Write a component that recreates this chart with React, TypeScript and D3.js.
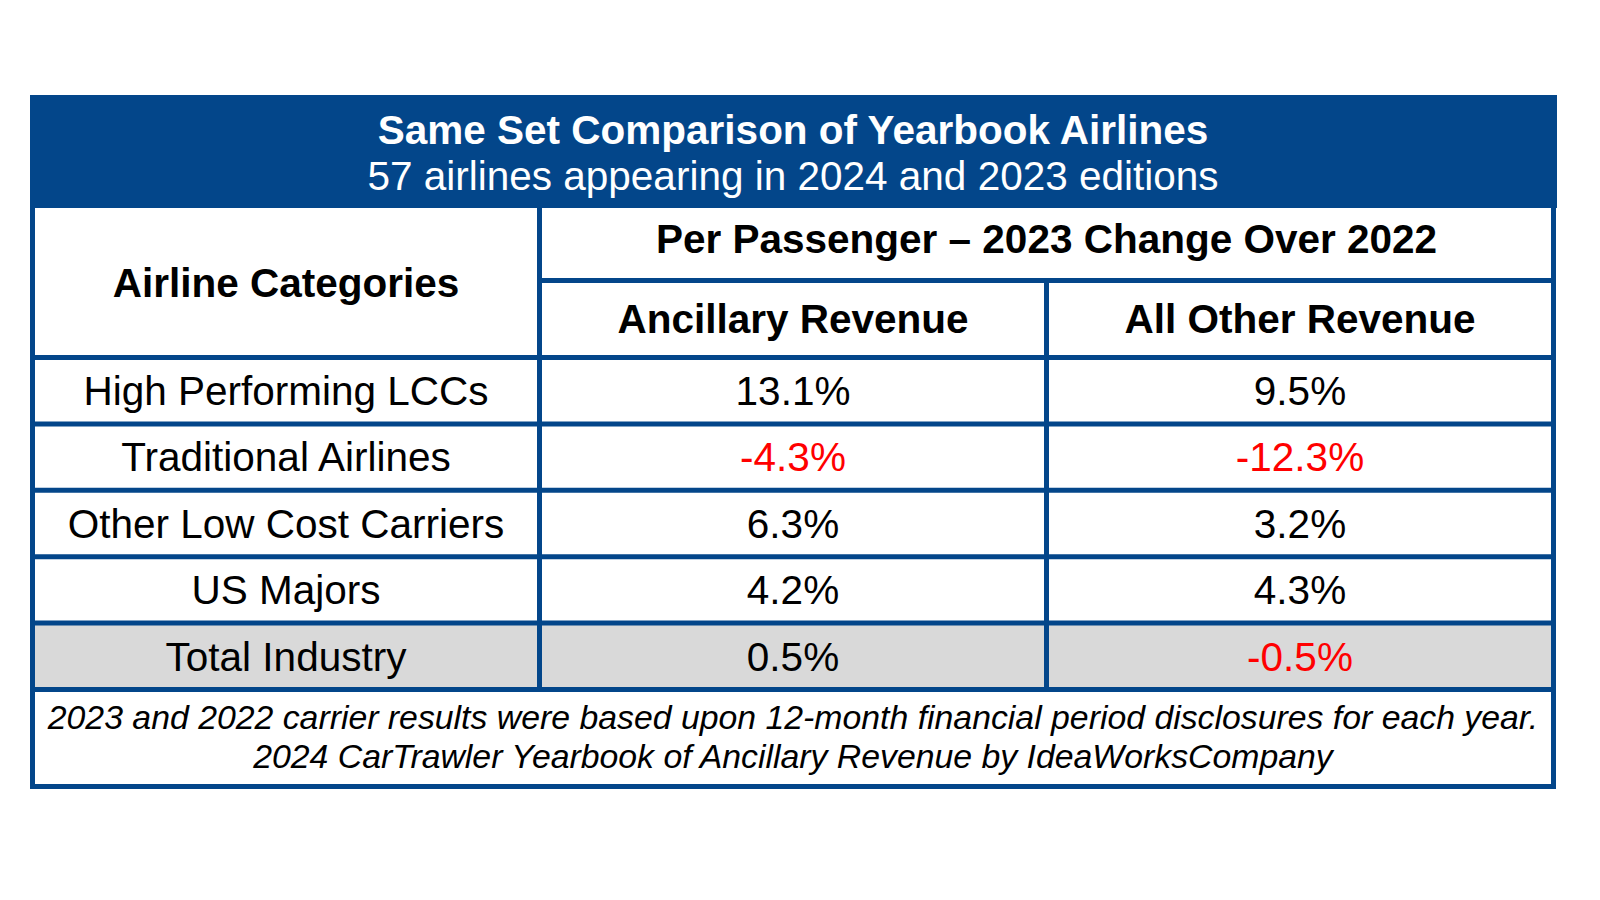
import React from "react";
import * as d3 from "d3";

const title = "Same Set Comparison of Yearbook Airlines";
const subtitle = "57 airlines appearing in 2024 and 2023 editions";
const groupHeader = "Per Passenger \u2013 2023 Change Over 2022";
const columnHeaders = ["Airline Categories", "Ancillary Revenue", "All Other Revenue"];
const categories = [
  "High Performing LCCs",
  "Traditional Airlines",
  "Other Low Cost Carriers",
  "US Majors",
  "Total Industry",
];
const ancillaryRevenue = [13.1, -4.3, 6.3, 4.2, 0.5];
const allOtherRevenue = [9.5, -12.3, 3.2, 4.3, -0.5];
const footnotes = [
  "2023 and 2022 carrier results were based upon 12-month financial period disclosures for each year.",
  "2024 CarTrawler Yearbook of Ancillary Revenue by IdeaWorksCompany",
];

const BLUE = "#03468a";
const GREY = "#d9d9d9";
const RED = "#ff0000";
const FONT = "'Liberation Sans', Arial, Helvetica, sans-serif";
const FS = 40.5;

export default function App() {
  const W = 1600;
  const H = 900;
  const colKeys = ["category", "ancillary", "other"];
  const x = d3.scaleBand<string>().domain(colKeys).range([32.5, 1553.5]).padding(0);
  const y = d3.scaleBand<string>().domain(categories).range([357.5, 689.5]).padding(0);
  const headerTop = 208;
  const groupLineY = 280.5;
  const headerBottom = y.range()[0];
  const tableBottom = 786.5;
  const fmt = (v: number) => `${v.toFixed(1)}%`;
  const base = (center: number, fs: number) => center + fs * 0.355;
  const cx = (k: string) => (x(k) as number) + x.bandwidth() / 2;
  const lastCat = categories[categories.length - 1];
  const bodyBottom = y.range()[1];

  return (
    <svg
      width={W}
      height={H}
      style={{ position: "absolute", left: 0, top: 0, background: "#fff" }}
      fontFamily={FONT}
    >
      <rect x={0} y={0} width={W} height={H} fill="#fff" />
      {/* header band */}
      <rect x={30} y={95} width={1527} height={headerTop - 95} fill={BLUE} />
      <text x={793} y={144} textAnchor="middle" fontSize={FS} fontWeight="bold" fill="#fff">
        {title}
      </text>
      <text x={793} y={190} textAnchor="middle" fontSize={FS} fill="#fff">
        {subtitle}
      </text>

      {/* total row shading */}
      <rect
        x={x("category") as number}
        y={y(lastCat) as number}
        width={x.bandwidth() * 3}
        height={y.bandwidth()}
        fill={GREY}
      />

      {/* column headers */}
      <text
        x={cx("category")}
        y={base((headerTop + headerBottom) / 2, FS)}
        textAnchor="middle"
        fontSize={FS}
        fontWeight="bold"
        fill="#000"
      >
        {columnHeaders[0]}
      </text>
      <text
        x={((x("ancillary") as number) + 1553.5) / 2}
        y={base((headerTop + groupLineY) / 2, FS) - 5.5}
        textAnchor="middle"
        fontSize={FS}
        fontWeight="bold"
        fill="#000"
      >
        {groupHeader}
      </text>
      <text
        x={cx("ancillary")}
        y={base((groupLineY + headerBottom) / 2, FS)}
        textAnchor="middle"
        fontSize={FS}
        fontWeight="bold"
        fill="#000"
      >
        {columnHeaders[1]}
      </text>
      <text
        x={cx("other")}
        y={base((groupLineY + headerBottom) / 2, FS)}
        textAnchor="middle"
        fontSize={FS}
        fontWeight="bold"
        fill="#000"
      >
        {columnHeaders[2]}
      </text>

      {/* body */}
      {categories.map((c, i) => {
        const cy = (y(c) as number) + y.bandwidth() / 2;
        const a = ancillaryRevenue[i];
        const o = allOtherRevenue[i];
        return (
          <g key={c}>
            <text x={cx("category")} y={base(cy, FS)} textAnchor="middle" fontSize={FS} fill="#000">
              {c}
            </text>
            <text x={cx("ancillary")} y={base(cy, FS)} textAnchor="middle" fontSize={FS} fill={a < 0 ? RED : "#000"}>
              {fmt(a)}
            </text>
            <text x={cx("other")} y={base(cy, FS)} textAnchor="middle" fontSize={FS} fill={o < 0 ? RED : "#000"}>
              {fmt(o)}
            </text>
          </g>
        );
      })}

      {/* grid lines */}
      <g stroke={BLUE} strokeWidth={5}>
        <line x1={x("ancillary") as number} x2={1553.5} y1={groupLineY} y2={groupLineY} />
        <line x1={32.5} x2={1553.5} y1={headerBottom} y2={headerBottom} />
        {categories.map((c) => {
          const yy = (y(c) as number) + y.bandwidth();
          return <line key={c} x1={32.5} x2={1553.5} y1={yy} y2={yy} />;
        })}
        <line x1={x("ancillary") as number} x2={x("ancillary") as number} y1={headerTop} y2={bodyBottom} />
        <line x1={x("other") as number} x2={x("other") as number} y1={groupLineY} y2={bodyBottom} />
        <rect x={32.5} y={97.5} width={1521} height={tableBottom - 97.5} fill="none" />
      </g>

      {/* footnotes */}
      {footnotes.map((f, i) => (
        <text
          key={i}
          x={793}
          y={729 + i * 39}
          textAnchor="middle"
          fontSize={33.8}
          fontStyle="italic"
          fill="#000"
        >
          {f}
        </text>
      ))}
    </svg>
  );
}
